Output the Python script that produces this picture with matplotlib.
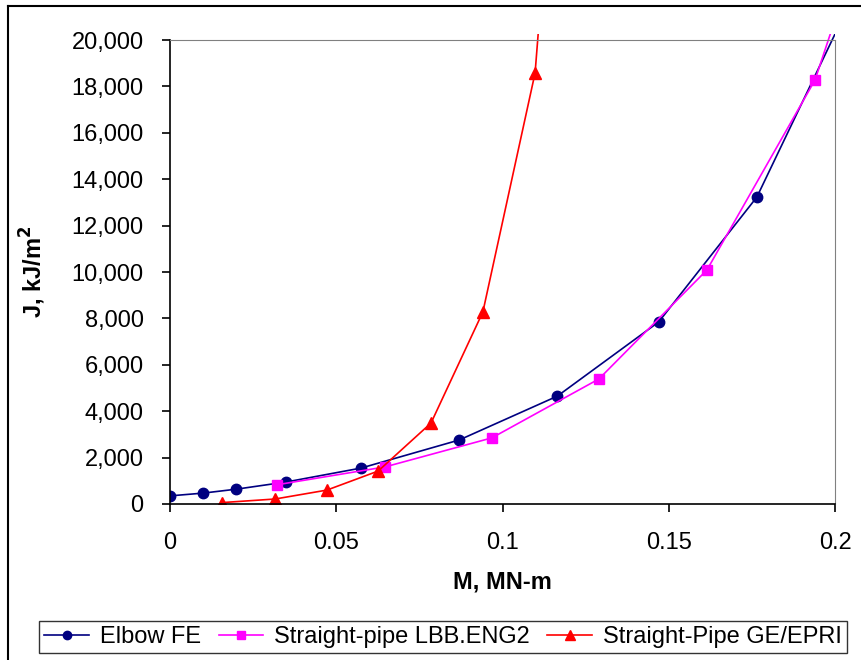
import matplotlib.pyplot as plt
from matplotlib.lines import Line2D
from matplotlib.patches import Rectangle
from matplotlib.ticker import FuncFormatter

plt.rcParams['font.family'] = ['Liberation Sans', 'DejaVu Sans']

# J-integral vs. moment; last point of each series lies beyond the axes
elbow_m = [0.0, 0.01, 0.02, 0.035, 0.0575, 0.087, 0.1165, 0.147, 0.1765, 0.2065]
elbow_j = [350, 470, 640, 950, 1550, 2760, 4650, 7850, 13230, 22200]

lbb_m = [0.0322, 0.0647, 0.0968, 0.129, 0.1615, 0.194, 0.2265]
lbb_j = [830, 1600, 2850, 5390, 10090, 18280, 32300]

ge_m = [0.0156, 0.0316, 0.0472, 0.0626, 0.0785, 0.0941, 0.1098, 0.1255]
ge_j = [60, 215, 600, 1420, 3490, 8280, 18580, 47000]

x_ticks = [0, 0.05, 0.1, 0.15, 0.2]
y_ticks = list(range(0, 20001, 2000))

fig = plt.figure(figsize=(8.62, 6.6), dpi=100)
ax = fig.add_axes([170 / 862, 1 - 504 / 660, 665 / 862, 464 / 660])

series = [
    (elbow_m, elbow_j, '#000080', 'o', 7.5, 'Elbow FE'),
    (lbb_m, lbb_j, '#FF00FF', 's', 7.0, 'Straight-pipe LBB.ENG2'),
    (ge_m, ge_j, '#FF0000', '^', 8.5, 'Straight-Pipe GE/EPRI'),
]
clip = Rectangle((0, 0), 1, 1.012, transform=ax.transAxes, fill=False, visible=False)
ax.add_patch(clip)
for xs, ys, col, mk, ms, lab in series:
    ln, = ax.plot(xs, ys, color=col, marker=mk, markersize=ms, lw=1.2,
                  markeredgecolor=col, label=lab)
    ln.set_clip_path(clip)

ax.set_xlim(0, 0.2)
ax.set_ylim(0, 20000)
ax.set_xticks(x_ticks)
ax.set_yticks(y_ticks)
ax.xaxis.set_major_formatter(FuncFormatter(lambda v, p: '0' if v == 0 else f'{v:g}'))
ax.yaxis.set_major_formatter(FuncFormatter(lambda v, p: f'{int(v):,}'))
ax.tick_params(axis='both', labelsize=17, direction='out', length=6, width=1.2)
ax.tick_params(axis='y', pad=13)
ax.tick_params(axis='x', pad=14)

for side in ('top', 'right'):
    ax.spines[side].set_color('#808080')
for side in ('left', 'bottom'):
    ax.spines[side].set_color('#000000')
    ax.spines[side].set_linewidth(1.2)

ax.set_xlabel('M, MN-m', fontsize=17, fontweight='bold', labelpad=12)
ax.set_ylabel('J, kJ/m$^\\mathbf{2}$', fontsize=17, fontweight='bold', labelpad=17)

leg = fig.legend(loc='center', bbox_to_anchor=(443 / 862, 1 - 637 / 660), ncol=3,
                 fontsize=17, frameon=True, fancybox=False, edgecolor='black',
                 handlelength=1.9, handletextpad=0.45, columnspacing=0.75,
                 borderpad=0.2, markerscale=0.8)
leg.get_frame().set_linewidth(1.0)

# outer chart border (left and top edges)
x0, y0 = 8 / 862, 1 - 6 / 660
fig.add_artist(Line2D([x0, x0], [0, y0], transform=fig.transFigure, color='black', lw=1.5))
fig.add_artist(Line2D([x0, 1], [y0, y0], transform=fig.transFigure, color='black', lw=1.5))

fig.savefig('out.png', dpi=100)
